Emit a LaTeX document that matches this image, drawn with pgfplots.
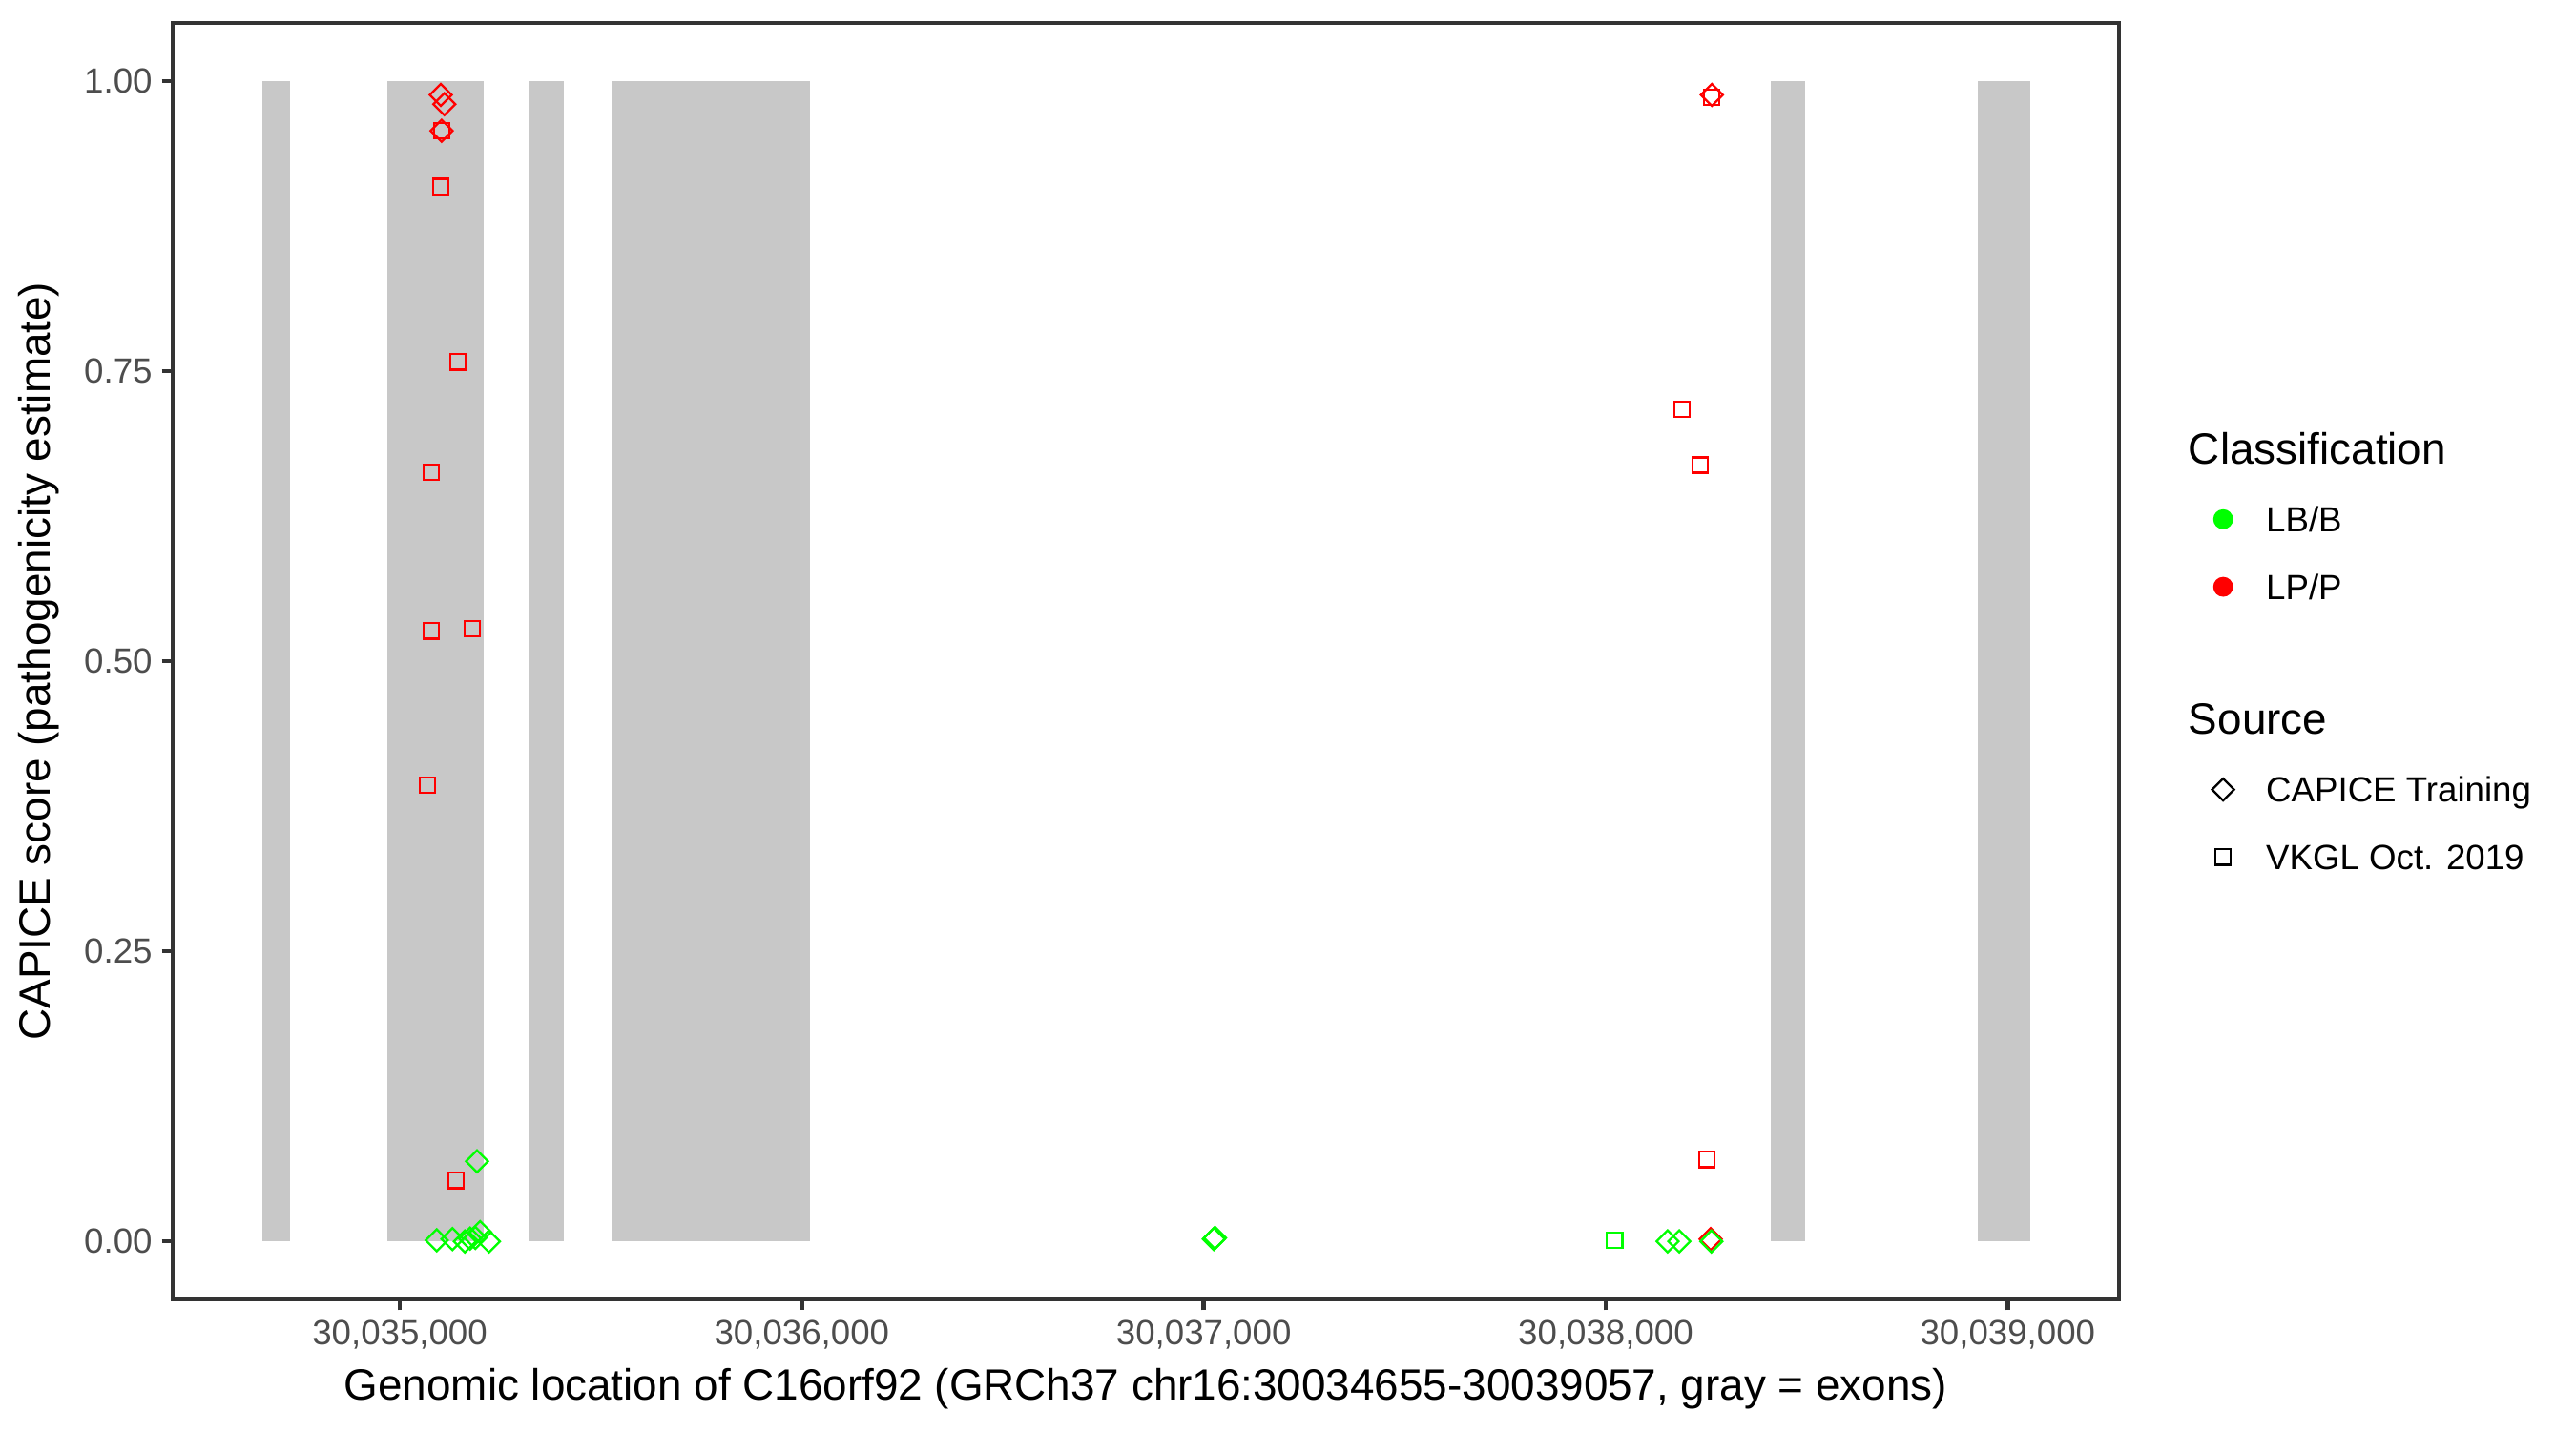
\documentclass[border=0pt]{standalone}
\usepackage{fontspec}
\setmainfont{Liberation Sans}
\usepackage{pgfplots}
\pgfplotsset{compat=1.18}

\definecolor{exon}{RGB}{200,200,200}
\definecolor{lbb}{RGB}{0,255,0}
\definecolor{lpp}{RGB}{255,0,0}
\definecolor{frame}{RGB}{51,51,51}
\definecolor{ticktext}{RGB}{77,77,77}

% genomic positions all look like 3.003xxxx e7; keep only the last digits
% so the FPU does not round the detail away
\def\mytrafo#1{\mytrafoA#1\relax}
\def\mytrafoA#1#2#3\relax{%
  \ifx Y#2\def\tmpnum{#1#2#3}\else\pgfmathfloatparsenumber{#1#2#3}\let\tmpnum\pgfmathresult\fi
  \expandafter\mystripfloat\tmpnum}
\def\mystripfloat 1Y3.003#1e7]{\edef\pgfmathresult{0.#1e4}}

\pgfplotsset{
  diam/.style={only marks, mark=square, mark size=1.95pt, mark options={rotate=45, line width=0.55pt}},
  sqr/.style={only marks, mark=square, mark size=1.95pt, mark options={line width=0.55pt}},
}

\begin{document}
\begin{tikzpicture}
\path[use as bounding box] (-43.44pt,-33.12pt) rectangle (604.56pt,326.88pt);
\begin{axis}[
    at={(0pt,0pt)}, anchor=south west,
    scale only axis,
    width=489.6pt, height=321.1pt,
    x coord trafo/.code={\mytrafo{#1}},
    xmin=30034435, xmax=30039277,
    ymin=-0.05, ymax=1.05,
    xtick={30035000,30036000,30037000,30038000,30039000},
    xticklabels={30{,}035{,}000,30{,}036{,}000,30{,}037{,}000,30{,}038{,}000,30{,}039{,}000},
    ytick={0,0.25,0.5,0.75,1},
    yticklabels={0.00,0.25,0.50,0.75,1.00},
    axis line style={frame, line width=1.07pt},
    tick style={frame, line width=1.07pt},
    tick align=outside,
    major tick length=2.75pt,
    xtick pos=bottom, ytick pos=left,
    ticklabel style={font=\fontsize{8.8}{10}\selectfont, text=ticktext},
    xticklabel style={inner sep=0pt, yshift=-2.2pt, anchor=north},
    yticklabel style={inner sep=0pt, xshift=-2.2pt, anchor=east},
    xlabel={Genomic location of C16orf92 (GRCh37 chr16:30034655-30039057, gray = exons)},
    ylabel={CAPICE score (pathogenicity estimate)},
    label style={font=\fontsize{11}{13}\selectfont},
    xlabel style={at={(axis description cs:0.5,0)}, anchor=base, yshift=-25.4pt, inner sep=0pt},
    ylabel style={at={(axis description cs:0,0.5)}, anchor=center, yshift=33.6pt, inner sep=0pt},
    legend style={at={(1.04126,0.6774)}, anchor=north west, draw=none, fill=none,
      inner sep=0pt, outer sep=0pt, row sep=8.5pt, column sep=4.8pt,
      font=\fontsize{8.8}{10}\selectfont,
      nodes={inner sep=0pt, text height=7.4pt, text depth=1.1pt, anchor=west}},
    legend cell align=left,
    legend image code/.code={\path[draw=none, fill=none] (0pt,-3pt) rectangle (12pt,3pt);
      \draw[#1] plot coordinates {(6pt,0pt)};},
]
% exons
\addplot[forget plot, fill=exon, draw=none] coordinates {(30034657,0) (30034726,0) (30034726,1) (30034657,1)} --cycle;
\addplot[forget plot, fill=exon, draw=none] coordinates {(30034970,0) (30035208,0) (30035208,1) (30034970,1)} --cycle;
\addplot[forget plot, fill=exon, draw=none] coordinates {(30035321,0) (30035409,0) (30035409,1) (30035321,1)} --cycle;
\addplot[forget plot, fill=exon, draw=none] coordinates {(30035528,0) (30036021,0) (30036021,1) (30035528,1)} --cycle;
\addplot[forget plot, fill=exon, draw=none] coordinates {(30038410,0) (30038496,0) (30038496,1) (30038410,1)} --cycle;
\addplot[forget plot, fill=exon, draw=none] coordinates {(30038925,0) (30039057,0) (30039057,1) (30038925,1)} --cycle;

% LP/P, VKGL
\addplot[forget plot, sqr, lpp] coordinates {
  (30035104,0.957) (30035102,0.909) (30035145,0.758) (30035078,0.663)
  (30035078,0.526) (30035180,0.528) (30035069,0.393) (30035140,0.0525)
  (30038264,0.986) (30038190,0.717) (30038235,0.669) (30038252,0.0706)
};
% LP/P, CAPICE training
\addplot[forget plot, diam, lpp] coordinates {
  (30035102,0.988) (30035111,0.980) (30035104,0.957) (30038264,0.988) (30038261,0.002)
};
% LB/B, VKGL
\addplot[forget plot, sqr, lbb] coordinates {
  (30038022,0.001)
};
% LB/B, CAPICE training
\addplot[forget plot, diam, lbb] coordinates {
  (30035092,0.001) (30035131,0.002) (30035162,0.000) (30035175,0.0025)
  (30035188,0.003) (30035200,0.008) (30035222,0.000) (30035192,0.069)
  (30037025,0.002) (30037028,0.003)
  (30038154,0.000) (30038183,0.000) (30038263,0.000)
};

\addlegendimage{empty legend}
\addlegendentry{\hspace*{-19.5pt}\fontsize{11}{13}\selectfont Classification}
\addlegendimage{only marks, mark=*, mark size=2.3pt, lbb}
\addlegendentry{LB/B}
\addlegendimage{only marks, mark=*, mark size=2.3pt, lpp}
\addlegendentry{LP/P}
\addlegendimage{empty legend}
\addlegendentry{}
\addlegendimage{empty legend}
\addlegendentry{\hspace*{-19.5pt}\fontsize{11}{13}\selectfont Source}
\addlegendimage{diam, black}
\addlegendentry{CAPICE Training}
\addlegendimage{sqr, black}
\addlegendentry{VKGL Oct. 2019}
\end{axis}
\end{tikzpicture}
\end{document}
